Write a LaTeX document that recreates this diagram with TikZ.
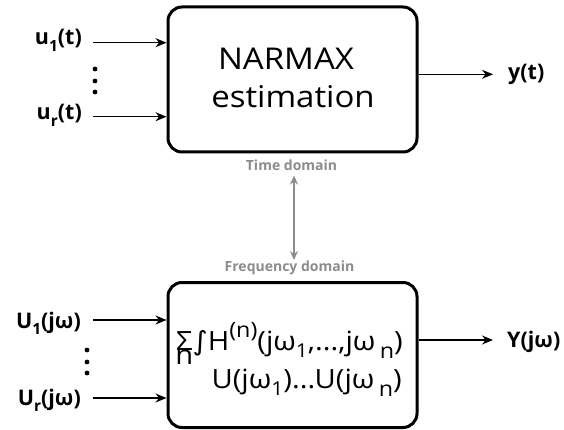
\documentclass[tikz,border=0pt]{standalone}
\usepackage{fontspec}
\setmainfont{Open Sans}
\newfontfamily\widefont[FakeStretch=1.1]{Open Sans}
\newfontfamily\symfont[FakeStretch=1.1]{DejaVu Sans}
\usetikzlibrary{positioning, arrows.meta}
\newcommand{\dn}[2][0.28em]{\raisebox{-#1}{\scalebox{0.72}{#2}}}
\newcommand{\dnn}[1]{\raisebox{-0.32em}{\scalebox{0.8}{#1}}}
\newcommand{\up}[1]{\raisebox{0.48em}{\scalebox{0.8}{#1}}}
\definecolor{domgray}{RGB}{140,140,140}

\begin{document}
\begin{tikzpicture}[x=1pt,y=-1pt]
\tikzstyle{every node}+=[inner sep=0pt]
\tikzstyle{block}=[draw=black, line width=3pt, rounded corners=14pt, minimum width=249pt, minimum height=145pt]
\tikzstyle{big}=[font=\widefont\fontsize{30}{36}\selectfont]
\tikzstyle{formula}=[font=\widefont\fontsize{26.5}{32}\selectfont]
\tikzstyle{lbl}=[font=\fontsize{21.5}{25}\selectfont\bfseries]
\tikzstyle{dom}=[text=domgray, font=\fontsize{14}{17}\selectfont\bfseries]
\tikzstyle{sig}=[black, line width=1.2pt, -{Stealth[length=11pt,width=9pt]}]
\tikzstyle{link}=[domgray, line width=1.2pt, {Stealth[length=9pt,width=8pt]}-{Stealth[length=9pt,width=8pt]}]
\useasboundingbox (0,0) rectangle (564,430);
\node [block] (narmax) at (292.5,79.5) {};
\node [big, anchor=base] (narmaxtxt) at (286,70) {NARMAX};
\node [big, anchor=base] (esttxt) at (293,108) {estimation};
\node [block] (volterra) at (292.5,355) {};
\node [formula, anchor=base east] (f1) at (403,350) {\ooalign{Σ\cr\hidewidth\raisebox{-0.56em}{n}\hidewidth\cr}{\symfont ∫}H\up{(n)}(jω\dn{1},...,jω\,\dnn{n})};
\node [formula, anchor=base east] (f2) at (402,388) {U(jω\dn{1})...U(jω\,\dnn{n})};
\node [lbl, anchor=base east] (u1) at (82,45) {u\dn{1}(t)};
\node [lbl, anchor=base east] (ur) at (82,120) {u\dn{r}(t)};
\node [lbl, anchor=base west] (y) at (508,80) {y(t)};
\node [lbl, anchor=base east] (U1) at (81,328) {U\dn{1}(jω)};
\node [lbl, anchor=base east] (Ur) at (81,405) {U\dn{r}(jω)};
\node [lbl, anchor=base west] (Y) at (507,347) {Y(jω)};
\node [dom] (tdom) at (291.5,165) {Time domain};
\node [dom] (fdom) at (289.5,268) {Frequency domain};
\coordinate (a1) at (93,42.7);
\coordinate (ar) at (93,116.7);
\coordinate (yend) at (493,74.3);
\coordinate (b1) at (93,320);
\coordinate (br) at (93,398);
\coordinate (Yend) at (493,340);
\draw [sig] (a1) -- (a1 -| narmax.west);
\draw [sig] (ar) -- (ar -| narmax.west);
\draw [sig] (narmax.east |- yend) -- (yend);
\draw [sig] (b1) -- (b1 -| volterra.west);
\draw [sig] (br) -- (br -| volterra.west);
\draw [sig] (volterra.east |- Yend) -- (Yend);
\draw [link] (tdom.south -| 294,0) ++(0,5) -- (294,260);
\fill (95,69) circle (2.4);
\fill (95,81) circle (2.4);
\fill (95,92) circle (2.4);
\fill (87,350) circle (2.4);
\fill (87,362) circle (2.4);
\fill (87,373) circle (2.4);
\end{tikzpicture}
\end{document}
